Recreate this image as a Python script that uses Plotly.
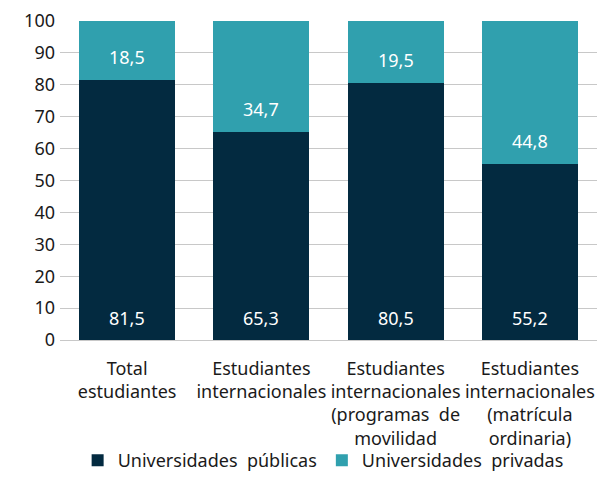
import plotly.graph_objects as go

categories = [
    "Total<br>estudiantes",
    "Estudiantes<br>internacionales",
    "Estudiantes<br>internacionales<br>(programas  de<br>movilidad",
    "Estudiantes<br>internacionales<br>(matrícula<br>ordinaria)",
]
publicas = [81.5, 65.3, 80.5, 55.2]
privadas = [18.5, 34.7, 19.5, 44.8]
y_ticks = [0, 10, 20, 30, 40, 50, 60, 70, 80, 90, 100]

fmt = lambda v: f"{v:.1f}".replace(".", ",")

font_family = "'Noto Sans', 'Open Sans', sans-serif"
fig = go.Figure()
fig.add_trace(go.Bar(
    x=categories, y=publicas, name="Universidades  públicas",
    marker=dict(color="#032a40", line=dict(width=0)),
))
fig.add_trace(go.Bar(
    x=categories, y=privadas, name="Universidades  privadas",
    marker=dict(color="#30a0ae", line=dict(width=0)),
))
# value labels near the bottom of each segment
for c, p, q in zip(categories, publicas, privadas):
    fig.add_annotation(x=c, y=0, text=fmt(p), showarrow=False, yshift=22,
                       font=dict(color="white", size=18, family=font_family))
    fig.add_annotation(x=c, y=p, text=fmt(q), showarrow=False, yshift=23,
                       font=dict(color="white", size=18, family=font_family))

fig.update_layout(
    barmode="stack", bargap=0.285,
    width=598, height=497,
    margin=dict(l=60, r=1, t=21, b=157, autoexpand=False),
    paper_bgcolor="white", plot_bgcolor="white",
    font=dict(family=font_family, size=18, color="#1a1a1a"),
    legend=dict(orientation="h", x=0.49, xanchor="center", y=-0.32, yanchor="top",
                font=dict(size=18), traceorder="normal", bgcolor="rgba(0,0,0,0)"),
    showlegend=True,
)
fig.update_yaxes(range=[0, 100], tickvals=y_ticks, showgrid=True, gridcolor="#c8c8c8",
                 gridwidth=1, zeroline=False, showline=False, ticks="", automargin=False,
                 ticklabelstandoff=4)
fig.update_xaxes(showline=True, linecolor="#c8c8c8", ticks="", tickangle=0,
                 automargin=False, ticklabelstandoff=12)
fig.write_html(
    "out.html",
    config={"displayModeBar": False},
    post_script="document.body.style.margin='0';document.body.style.overflow='hidden';",
)
